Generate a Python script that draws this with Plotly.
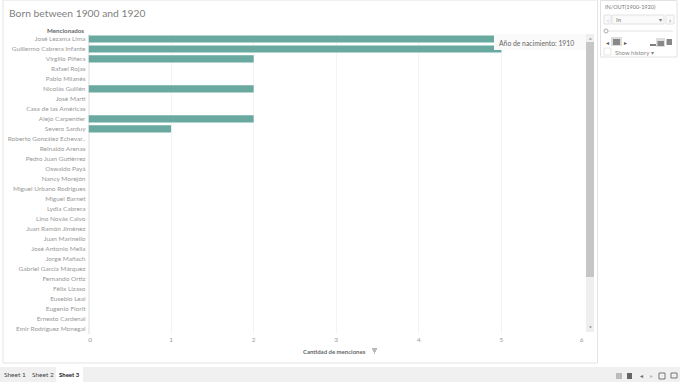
import plotly.graph_objects as go

W, H = 680, 382
names = ["José Lezama Lima", "Guillermo Cabrera Infante", "Virgilio Piñera", "Rafael Rojas", "Pablo Milanés",
         "Nicolás Guillén", "José Martí", "Casa de las Américas", "Alejo Carpentier", "Severo Sarduy",
         "Roberto González Echevar..", "Reinaldo Arenas", "Pedro Juan Gutiérrez", "Oswaldo Payá", "Nancy Morejón",
         "Miguel Urbano Rodrigues", "Miguel Barnet", "Lydia Cabrera", "Lino Novás Calvo", "Juan Ramón Jiménez",
         "Juan Marinello", "José Antonio Mella", "Jorge Mañach", "Gabriel García Márquez", "Fernando Ortiz",
         "Félix Lizaso", "Eusebio Leal", "Eugenio Florit", "Ernesto Cardenal", "Emir Rodríguez Monegal"]
menciones = [5, 5, 2, 0, 0, 2, 0, 0, 2, 1, 0, 0, 0, 0, 0, 0, 0, 0, 0, 0, 0, 0, 0, 0, 0, 0, 0, 0, 0, 0]
x_ticks = [0, 1, 2, 3, 4, 5, 6]
x_tick_text = ["\u00a0\u00a00", "1", "2", "3", "4", "5", "6\u00a0\u00a0\u00a0"]

FONT = "Lato, Open Sans, sans-serif"
px = lambda v: v / W
py = lambda v: 1 - v / H

def rect(x0, y0, x1, y1, fill="rgba(0,0,0,0)", line=None, lw=1, layer="above"):
    return dict(type="rect", xref="paper", yref="paper", x0=px(x0), x1=px(x1), y0=py(y0), y1=py(y1),
                fillcolor=fill, line=dict(color=line or "rgba(0,0,0,0)", width=lw if line else 0), layer=layer)

def hline(x0, x1, y, color="#666666", w=1):
    return dict(type="line", xref="paper", yref="paper", x0=px(x0), x1=px(x1), y0=py(y), y1=py(y),
                line=dict(color=color, width=w))

def text(x, y, s, size=7, color="#777777", anchor="left", bold=False):
    return dict(xref="paper", yref="paper", x=px(x), y=py(y), text=f"<b>{s}</b>" if bold else s, showarrow=False,
                xanchor=anchor, yanchor="middle", font=dict(family=FONT, size=size, color=color), borderpad=0,
                align=anchor)

shapes = [
    rect(3, 0, 597.5, 363, fill="#ffffff", line="#e4e4e4", layer="below"),
    rect(0, 367, 680, 382, fill="#f0f0f0", layer="below"),
    rect(56, 367, 83, 382, fill="#ffffff", layer="below"),
    # tooltip
    rect(494, 34, 586, 50, fill="#fafafa"),
    # scrollbar
    rect(586, 34, 594, 332, fill="#efefef"),
    rect(586, 42, 594, 277, fill="#c6c6c6"),
    # right panel
    rect(600.5, 0.5, 677, 57, fill="#ffffff", line="#e2e2e2", layer="below"),
    rect(604, 15, 611, 24, fill="#fafafa", line="#e2e2e2"),
    rect(612, 15, 664, 24, fill="#fafafa", line="#e2e2e2"),
    rect(666, 15, 674, 24, fill="#fafafa", line="#e2e2e2"),
    hline(608, 673, 31, "#e2e2e2"),
    dict(type="circle", xref="paper", yref="paper", x0=px(604), x1=px(608), y0=py(29), y1=py(33),
         fillcolor="#ffffff", line=dict(color="#aaaaaa", width=1)),
    rect(611, 37, 622, 46, fill="#dddddd"),
    rect(613, 39, 620, 45, fill="#888888"),
    hline(650, 656, 45, "#555555", 1.5),
    rect(656, 38, 665, 47, fill="#dddddd"),
    rect(657.5, 41, 664, 46, fill="#888888"),
    rect(666.5, 39, 672, 45, fill="#888888"),
    rect(604, 48, 611, 55, fill="#ffffff", line="#e6e6e6"),
    # filter icon next to the axis title
    hline(372, 377, 349, "#777777"),
    hline(373, 376, 351, "#777777"),
    hline(374, 375, 353, "#777777"),
    # bottom-right toolbar
    rect(616, 373, 622, 379, fill="#bbbbbb"),
    rect(627, 373, 632, 379, fill="#666666"),
    rect(659, 373, 665, 379, line="#777777"),
    rect(671, 373, 677, 378, line="#777777"),
]

annotations = [
    text(8, 13, "Born between 1900 and 1920", size=10.3, color="#808080"),
    text(85, 30, "Mencionados", size=6.2, color="#666666", anchor="right", bold=True),
    text(334, 351, "Cantidad de menciones", size=6, color="#666666", anchor="center", bold=True),
    text(498, 42.5, "Año de nacimiento: 1910", size=6.8, color="#666666"),
    text(604, 7.5, "IN/OUT(1900-1920)", size=5.5, color="#777777"),
    text(615, 19.5, "In", size=6, color="#777777"),
    text(607.5, 19.5, "‹", size=7, color="#aaaaaa", anchor="center"),
    text(670, 19.5, "›", size=7, color="#555555", anchor="center"),
    text(660, 19.5, "▾", size=6, color="#777777", anchor="center"),
    text(607, 42, "◂", size=6, color="#555555", anchor="center"),
    text(625, 42, "▸", size=6, color="#555555", anchor="center"),
    text(614, 52, "Show history ▾", size=6, color="#888888"),
    text(3, 374.5, "Sheet 1", size=6.5, color="#444444"),
    text(31, 374.5, "Sheet 2", size=6.5, color="#444444"),
    text(58, 374.5, "Sheet 3", size=6, color="#222222", bold=True),
    text(641, 375.5, "◂", size=6, color="#666666", anchor="center"),
    text(651, 375.5, "▸", size=6, color="#bbbbbb", anchor="center"),
    text(590, 39, "˄", size=6, color="#555555", anchor="center"),
    text(590, 327, "˅", size=6, color="#333333", anchor="center"),
]

fig = go.Figure(go.Bar(x=menciones, y=names, orientation="h", marker=dict(color="#6aa9a0", line=dict(width=0)),
                       width=0.72, hoverinfo="skip"))
fig.update_layout(
    width=W, height=H, margin=dict(l=0, r=0, t=0, b=0, autoexpand=False), paper_bgcolor="#ffffff",
    plot_bgcolor="rgba(0,0,0,0)", showlegend=False, shapes=shapes, annotations=annotations,
    font=dict(family=FONT),
    xaxis=dict(domain=[px(88.5), px(584)], range=[0, 6.0], tickvals=x_ticks, ticktext=x_tick_text, ticks="",
               showline=False, gridcolor="#f4f4f4", gridwidth=1, zeroline=True, zerolinecolor="#eeeeee",
               anchor="free", position=py(334.5), tickfont=dict(size=6.5, color="#999999", family=FONT),
               layer="below traces"),
    yaxis=dict(domain=[py(333.5), py(34)], autorange="reversed", categoryorder="array", categoryarray=names,
               tickmode="array", tickvals=names, ticktext=names, ticks="", showline=False, showgrid=False,
               tickfont=dict(size=6.5, color="#999999", family=FONT), ticklabelstandoff=2),
)
fig.write_html("out.html", post_script="document.body.style.margin='0';document.body.style.overflow='hidden';",
               config=dict(displayModeBar=False))
